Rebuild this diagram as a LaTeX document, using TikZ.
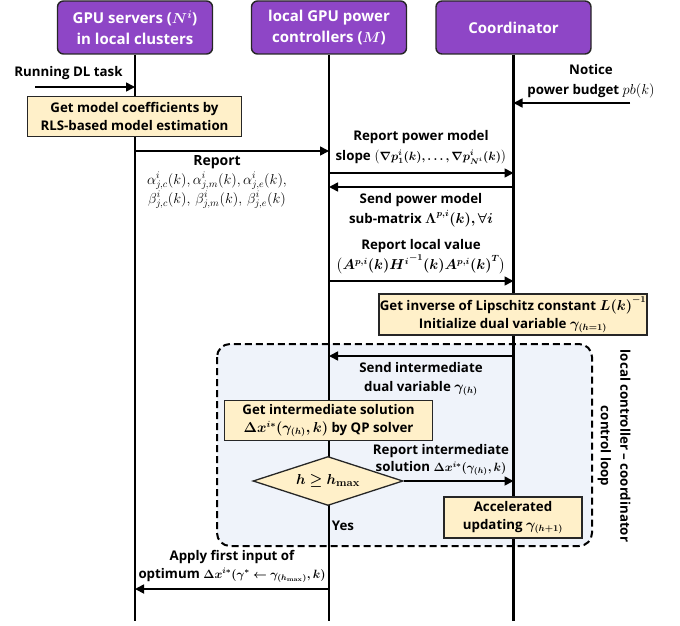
\documentclass[tikz,border=0pt]{standalone}
\usepackage{amsmath,amssymb,bm}
\usepackage{fontspec}
\setmainfont{Open Sans}
\usetikzlibrary{shapes.geometric,arrows.meta}
\definecolor{hpurple}{HTML}{8E46C6}
\definecolor{ybg}{HTML}{FFF0C9}
\definecolor{loopbg}{HTML}{EFF3FA}
\newcommand{\smallmath}[1]{{\fontsize{11.6}{19}\selectfont$#1$}}
\tikzset{
  hdr/.style={draw=black!85, line width=1.4pt, fill=hpurple, rounded corners=6pt,
    minimum width=155pt, minimum height=53pt, text=white, align=center,
    font=\bfseries\fontsize{15}{21}\selectfont},
  ybox/.style={draw=black!85, line width=1.3pt, fill=ybg, align=center, inner sep=0pt,
    font=\bfseries\fontsize{13.3}{18}\selectfont},
  lbl/.style={align=center, inner sep=0pt, font=\bfseries\fontsize{13.3}{19.5}\selectfont},
  life/.style={line width=2.3pt},
  msg/.style={line width=1.7pt, -{Triangle[length=9pt,width=9pt]}},
}
\begin{document}
\begin{tikzpicture}[x=1pt,y=-1pt]
\useasboundingbox (0,0) rectangle (680,626);
% loop background
\draw[line width=2pt, dash pattern=on 7pt off 4pt, rounded corners=13pt, fill=loopbg]
  (217,344) rectangle (592,546);
% headers
\node[hdr] (h1) at (135,27.5) {GPU servers ($\bm{N^i}$)\\in local clusters};
\node[hdr] (h2) at (329,27.5) {local GPU power\\controllers ($\bm{M}$)};
\node[hdr] (h3) at (513.5,27.5) {Coordinator};
% lifeline ends
\coordinate (e1) at (135,621);
\coordinate (e2) at (329,621);
\coordinate (e3) at (513.5,621);
\draw[life] (h1.south) -- (e1);
\draw[life] (h2.south) -- (e2);
\draw[life] (h3.south) -- (e3);
% running DL task
\node[lbl] (tRun) at (68.5,73) {Running DL task};
\coordinate (r0) at (35,87);
\coordinate (r1) at (135,87);
\draw[msg] (r0) -- (r1);
% notice power budget
\node[lbl] (tNot) at (591,81) {Notice\\power budget $pb(k)$};
\coordinate (n0) at (630,103);
\coordinate (n1) at (513.5,103);
\draw[msg] (n0) -- (n1);
% RLS box
\node[ybox, minimum width=214pt, minimum height=40pt] (bRLS) at (134.5,116.5)
  {Get model coefficients by\\RLS-based model estimation};
% report coefficients
\coordinate (a0) at (135,151);
\coordinate (a1) at (329,151);
\draw[msg] (a0) -- (a1);
\node[lbl, font=\fontsize{14}{19}\selectfont] (tRep) at (217,182)
  {\textbf{Report}\\
   $\alpha^i_{j,c}(k), \alpha^i_{j,m}(k), \alpha^i_{j,e}(k),$\\
   $\beta^i_{j,c}(k),\, \beta^i_{j,m}(k),\, \beta^i_{j,e}(k)$};
% report slope
\node[lbl] (tSlope) at (421,147.5)
  {Report power model\\slope \smallmath{\bm{\bigl(\nabla p^i_1(k), \ldots, \nabla p^i_{N^i}(k)\bigr)}}};
\coordinate (s0) at (329,173);
\coordinate (s1) at (513.5,173);
\draw[msg] (s0) -- (s1);
% send sub-matrix
\coordinate (m0) at (513.5,187);
\coordinate (m1) at (329,187);
\draw[msg] (m0) -- (m1);
\node[lbl] (tSub) at (421,210)
  {Send power model\\sub-matrix $\bm{\Lambda^{p,i}(k), \forall i}$};
% report local value
\node[lbl] (tLoc) at (421,257)
  {Report local value\\$\bm{\bigl(A^{p,i}(k) {H^i}^{-1}(k) A^{p,i}(k)^T\bigr)}$};
\coordinate (l0) at (329,281);
\coordinate (l1) at (513.5,281);
\draw[msg] (l0) -- (l1);
% Lipschitz box
\node[ybox, minimum width=268pt, minimum height=41pt] (bLip) at (513,314.5)
  {Get inverse of Lipschitz constant $\bm{L(k)^{-1}}$\\Initialize dual variable $\bm{\gamma_{(h=1)}}$};
% send intermediate dual
\coordinate (d0) at (513.5,356);
\coordinate (d1) at (329,356);
\draw[msg] (d0) -- (d1);
\node[lbl] (tDual) at (421,379)
  {Send intermediate\\dual variable $\bm{\gamma_{(h)}}$};
% QP box
\node[ybox, minimum width=208pt, minimum height=40pt] (bQP) at (328.5,420.5)
  {Get intermediate solution\\$\bm{\Delta x^{i*}(\gamma_{(h)}, k)}$ by QP solver};
% diamond
\node[draw=black!85, line width=1.3pt, fill=ybg, diamond, aspect=2.9, inner sep=0pt,
  minimum width=150pt, minimum height=49pt] (dia) at (328,481)
  {\fontsize{15}{18}\selectfont$\bm{h \ge h_{\mathbf{max}}}$};
\coordinate (q1) at (513.5,481);
\draw[msg] (dia.east) -- (q1);
\node[lbl, font=\bfseries\fontsize{13.3}{16.5}\selectfont] (tSol) at (441,460)
  {Report intermediate\\solution \smallmath{\bm{\Delta x^{i*}(\gamma_{(h)}, k)}}};
\node[lbl] (tYes) at (343,526) {Yes};
% accelerated box
\node[ybox, minimum width=138pt, minimum height=41pt] (bAcc) at (513,517.5)
  {Accelerated\\updating $\bm{\gamma_{(h+1)}}$};
% rotated label
\node[lbl, rotate=-90] (tLoop) at (614,446)
  {local controller -- coordinator\\control loop};
% apply first input
\node[lbl, font=\bfseries\fontsize{13.3}{18}\selectfont] (tApp) at (232,566)
  {Apply first input of\\optimum \smallmath{\bm{\Delta x^{i*}(\gamma^{*} \leftarrow \gamma_{(h_{\mathbf{max}})}, k)}}};
\coordinate (p0) at (329,589);
\coordinate (p1) at (135,589);
\draw[msg] (p0) -- (p1);
\end{tikzpicture}
\end{document}
